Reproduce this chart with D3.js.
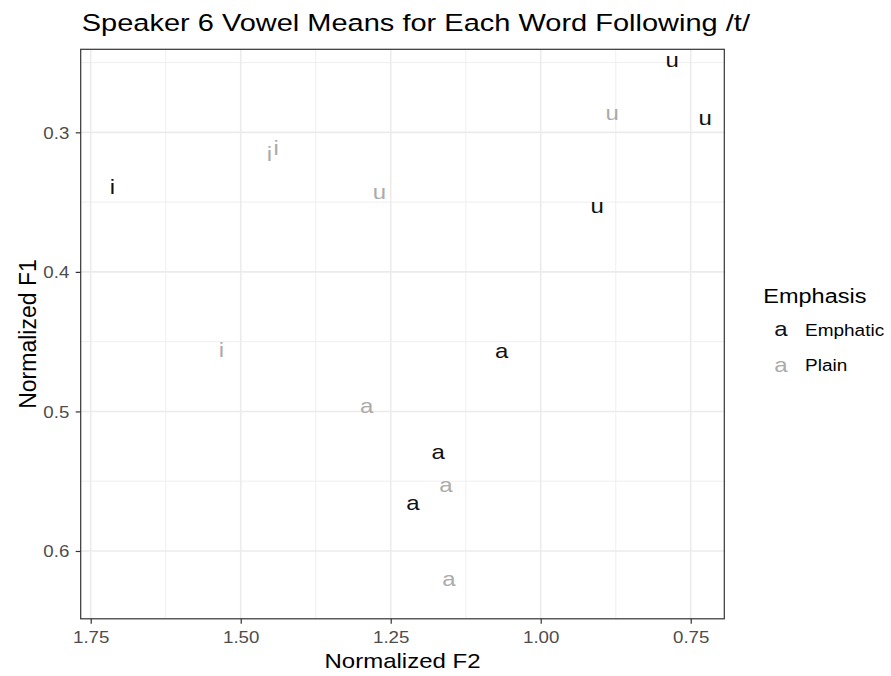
<!DOCTYPE html>
<html>
<head>
<meta charset="utf-8">
<script src="https://cdn.jsdelivr.net/npm/d3@7"></script>
<style>
  html, body { margin: 0; padding: 0; background: #ffffff; }
  svg { display: block; font-family: "Liberation Sans", Arial, Helvetica, sans-serif; }
</style>
</head>
<body>
<svg id="chart" width="891" height="676"></svg>
<script>
// Vowel means per word, speaker 6, words following /t/
const emphaticVowels = ["i", "u", "u", "u", "a", "a", "a"];
const emphaticF2 = [1.714, 0.781, 0.726, 0.906, 1.065, 1.171, 1.213];
const emphaticF1 = [0.339, 0.249, 0.291, 0.354, 0.458, 0.530, 0.567];

const plainVowels = ["i", "i", "u", "u", "i", "a", "a", "a"];
const plainF2 = [1.452, 1.441, 1.269, 0.881, 1.532, 1.290, 1.158, 1.153];
const plainF1 = [0.315, 0.311, 0.344, 0.287, 0.456, 0.497, 0.554, 0.621];

const emphasisLevels = ["Emphatic", "Plain"];
const emphasisColors = ["#111111", "#ababab"];

const f2Ticks = [1.75, 1.50, 1.25, 1.00, 0.75];
const f2MinorTicks = [1.625, 1.375, 1.125, 0.875];
const f1Ticks = [0.3, 0.4, 0.5, 0.6];
const f1MinorTicks = [0.25, 0.35, 0.45, 0.55];

const f2Limits = [1.7667, 0.6940];   // reversed axis
const f1Limits = [0.2405, 0.6486];   // reversed axis (low F1 at top)

const titleText = "Speaker 6 Vowel Means for Each Word Following /t/";
const xTitle = "Normalized F2";
const yTitle = "Normalized F1";
const legendTitle = "Emphasis";

// ---- layout ----
const panel = { left: 80.7, right: 724.3, top: 49.3, bottom: 618.8 };
const textScaleY = 0.85;          // glyphs drawn slightly flattened
const glyphSize = 24;

const svg = d3.select("#chart");
svg.append("rect").attr("width", 891).attr("height", 676).attr("fill", "#ffffff");

const x = d3.scaleLinear().domain(f2Limits).range([panel.left, panel.right]);
const y = d3.scaleLinear().domain(f1Limits).range([panel.top, panel.bottom]);

const colour = d3.scaleOrdinal().domain(emphasisLevels).range(emphasisColors);

// flattened text placed with its anchor at (tx, ty)
function flatText(parent, tx, ty, str, size, anchor, fill) {
  return parent.append("text")
    .attr("transform", `translate(${tx},${ty}) scale(1,${textScaleY})`)
    .attr("text-anchor", anchor)
    .attr("font-size", size)
    .attr("fill", fill)
    .text(str);
}

// vertical offset from glyph centre to baseline
function glyphDrop(ch) {
  const tall = "bdfhijklt";
  const k = tall.includes(ch) ? 0.358 : 0.262;
  return k * glyphSize * textScaleY;
}

// ---- grid ----
const grid = svg.append("g");
grid.selectAll("line.vminor").data(f2MinorTicks).join("line")
  .attr("x1", d => x(d)).attr("x2", d => x(d))
  .attr("y1", panel.top).attr("y2", panel.bottom)
  .attr("stroke", "#ebebeb").attr("stroke-width", 0.8);
grid.selectAll("line.hminor").data(f1MinorTicks).join("line")
  .attr("y1", d => y(d)).attr("y2", d => y(d))
  .attr("x1", panel.left).attr("x2", panel.right)
  .attr("stroke", "#ebebeb").attr("stroke-width", 0.8);
grid.selectAll("line.vmajor").data(f2Ticks).join("line")
  .attr("x1", d => x(d)).attr("x2", d => x(d))
  .attr("y1", panel.top).attr("y2", panel.bottom)
  .attr("stroke", "#ebebeb").attr("stroke-width", 1.6);
grid.selectAll("line.hmajor").data(f1Ticks).join("line")
  .attr("y1", d => y(d)).attr("y2", d => y(d))
  .attr("x1", panel.left).attr("x2", panel.right)
  .attr("stroke", "#ebebeb").attr("stroke-width", 1.6);

// ---- points drawn as vowel letters ----
const rows = [];
emphaticVowels.forEach((v, i) => rows.push({ vowel: v, f2: emphaticF2[i], f1: emphaticF1[i], group: "Emphatic" }));
plainVowels.forEach((v, i) => rows.push({ vowel: v, f2: plainF2[i], f1: plainF1[i], group: "Plain" }));

const marks = svg.append("g");
rows.forEach(d => {
  flatText(marks, x(d.f2), y(d.f1) + glyphDrop(d.vowel), d.vowel, glyphSize, "middle", colour(d.group));
});

// ---- panel border ----
svg.append("rect")
  .attr("x", panel.left).attr("y", panel.top)
  .attr("width", panel.right - panel.left).attr("height", panel.bottom - panel.top)
  .attr("fill", "none").attr("stroke", "#333333").attr("stroke-width", 1.2);

// ---- axes ----
const xAxis = svg.append("g")
  .attr("transform", `translate(0,${panel.bottom})`)
  .call(d3.axisBottom(x).tickValues(f2Ticks).tickFormat(d3.format(".2f")).tickSize(5).tickSizeOuter(0));
xAxis.select(".domain").remove();
xAxis.selectAll(".tick line").attr("stroke", "#333333").attr("stroke-width", 1.2);
xAxis.selectAll(".tick text")
  .attr("y", null).attr("dy", null)
  .attr("transform", `translate(0,23.9) scale(1,${textScaleY})`)
  .attr("font-size", 18.7).attr("fill", "#4d4d4d").attr("font-family", null);

const yAxis = svg.append("g")
  .attr("transform", `translate(${panel.left},0)`)
  .call(d3.axisLeft(y).tickValues(f1Ticks).tickFormat(d3.format(".1f")).tickSize(5).tickSizeOuter(0));
yAxis.select(".domain").remove();
yAxis.selectAll(".tick line").attr("stroke", "#333333").attr("stroke-width", 1.2);
yAxis.selectAll(".tick text")
  .attr("x", null).attr("dy", null)
  .attr("transform", `translate(-11.4,5.7) scale(1,${textScaleY})`)
  .attr("font-size", 18.7).attr("fill", "#4d4d4d").attr("font-family", null);

// ---- titles ----
flatText(svg, panel.left + 1, 31, titleText, 29, "start", "#000000");
flatText(svg, (panel.left + panel.right) / 2, 668, xTitle, 24, "middle", "#000000");
svg.append("text")
  .attr("transform", `translate(36,${(panel.top + panel.bottom) / 2}) rotate(-90)`)
  .attr("text-anchor", "middle")
  .attr("font-size", 23)
  .attr("fill", "#000000")
  .text(yTitle);

// ---- legend ----
const legend = svg.append("g");
flatText(legend, 763.3, 303.3, legendTitle, 23.5, "start", "#000000");
emphasisLevels.forEach((lvl, i) => {
  const cy = 331 + i * 35.3;
  flatText(legend, 781, cy + glyphDrop("a"), "a", glyphSize, "middle", colour(lvl));
  flatText(legend, 805, cy + 5, lvl, 19, "start", "#000000");
});
</script>
</body>
</html>
